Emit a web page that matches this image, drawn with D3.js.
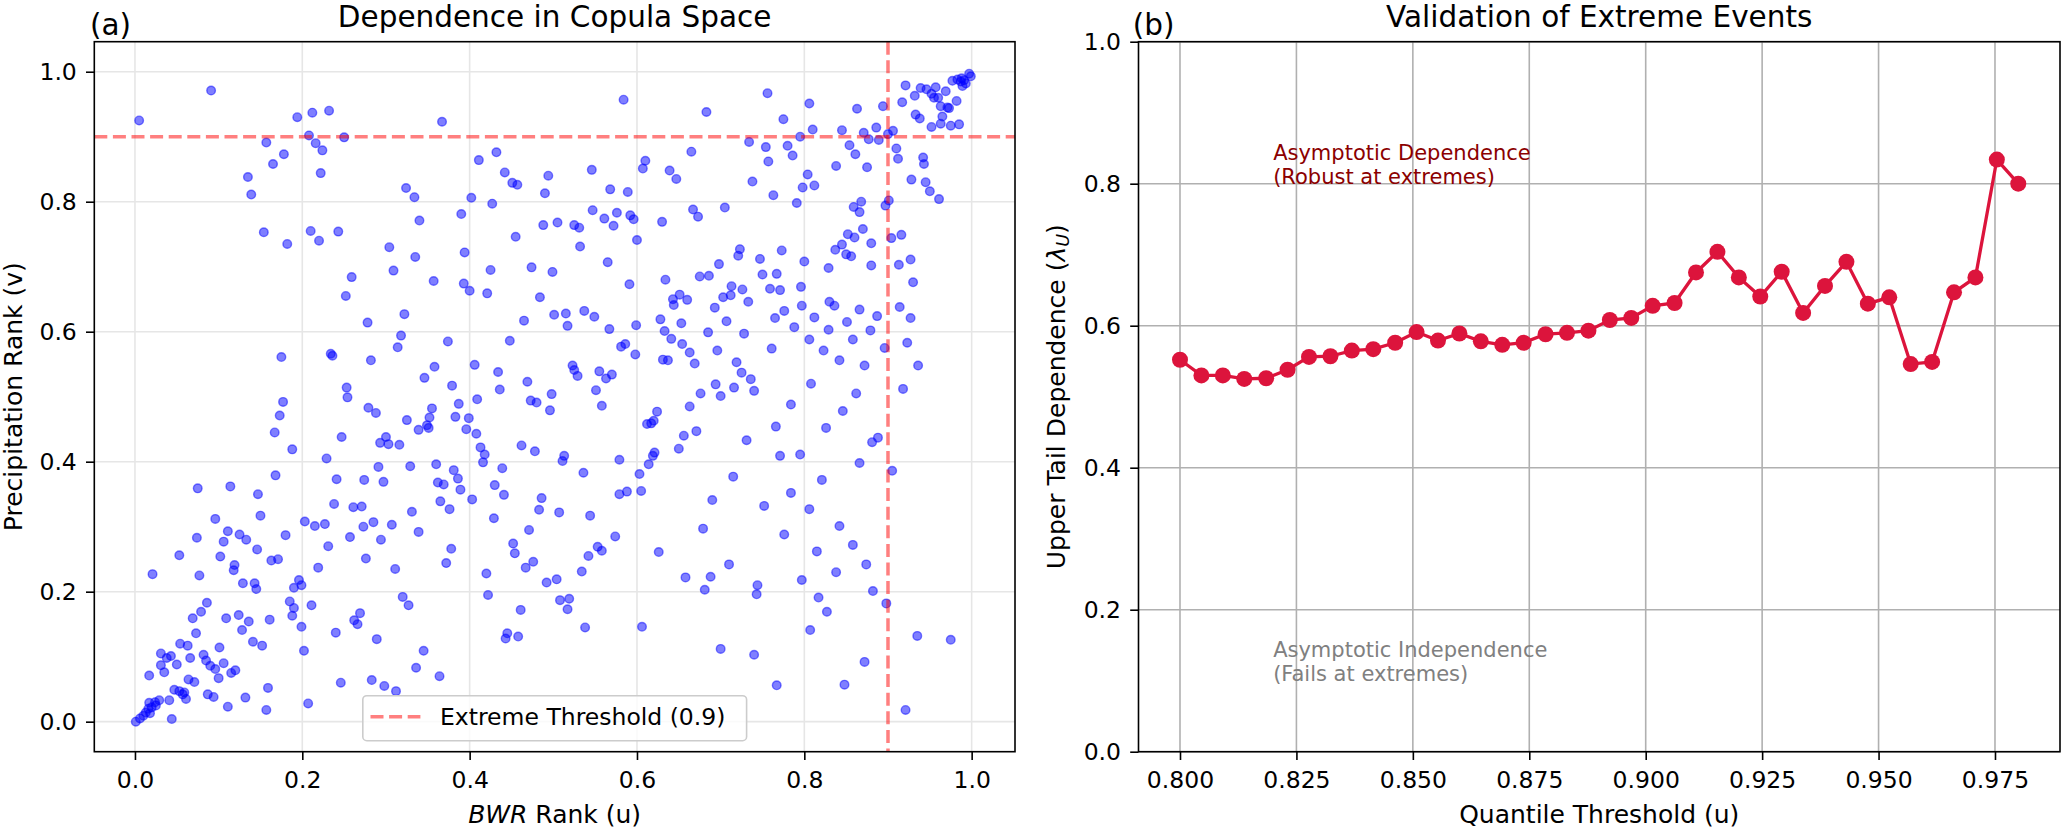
<!DOCTYPE html>
<html>
<head>
<meta charset="utf-8">
<script src="https://cdn.jsdelivr.net/npm/d3@7"></script>
<style>
  body { margin: 0; background: #fff; }
  svg text { font-family: "DejaVu Sans", sans-serif; fill: #000; }
</style>
</head>
<body>
<div class="chart"></div>
<script>
// (a) pseudo-observations in copula space: [BWR rank u, precipitation rank v]
const copulaPoints = [
  [0.005,0.925],[0.091,0.971],[0.194,0.930],[0.212,0.937],[0.232,0.940],[0.208,0.902],[0.216,0.890],[0.224,0.879],
  [0.250,0.899],[0.157,0.891],[0.178,0.873],[0.165,0.858],[0.222,0.844],[0.135,0.838],[0.139,0.811],[0.154,0.753],
  [0.182,0.735],[0.210,0.755],[0.220,0.740],[0.243,0.754],[0.259,0.684],[0.252,0.655],[0.324,0.821],[0.334,0.807],
  [0.340,0.771],[0.304,0.730],[0.309,0.694],[0.335,0.715],
  [0.367,0.923],[0.411,0.864],[0.432,0.876],[0.442,0.845],[0.451,0.829],[0.457,0.826],[0.494,0.840],[0.490,0.813],
  [0.402,0.806],[0.427,0.797],[0.390,0.781],[0.394,0.722],[0.455,0.746],[0.488,0.764],[0.505,0.768],[0.525,0.764],
  [0.531,0.760],[0.532,0.731],[0.546,0.849],[0.568,0.819],[0.584,0.957],[0.589,0.815],[0.547,0.787],[0.561,0.774],
  [0.576,0.783],[0.572,0.763],[0.592,0.779],[0.596,0.773],[0.600,0.741],[0.607,0.851],[0.610,0.863],[0.639,0.848],
  [0.647,0.835],[0.665,0.877],[0.683,0.938],[0.630,0.769],[0.667,0.788],[0.673,0.777],[0.705,0.791],[0.734,0.892],
  [0.754,0.884],[0.757,0.862],[0.738,0.831],[0.763,0.810],[0.756,0.967],[0.773,0.725],[0.357,0.678],[0.393,0.674],
  [0.400,0.663],[0.421,0.659],[0.425,0.695],[0.474,0.699],[0.499,0.692],[0.484,0.653],[0.565,0.707],[0.591,0.673],
  [0.634,0.680],[0.643,0.650],[0.651,0.657],[0.660,0.649],[0.675,0.685],[0.686,0.686],[0.698,0.704],[0.723,0.727],
  [0.721,0.717],[0.713,0.670],[0.703,0.653],[0.712,0.656],[0.726,0.665],[0.747,0.712],[0.750,0.688],[0.759,0.666],
  [0.767,0.689],[0.771,0.664],[0.733,0.646],
  [0.806,0.951],[0.775,0.927],[0.810,0.911],[0.795,0.900],[0.780,0.886],[0.786,0.871],[0.845,0.910],[0.863,0.943],
  [0.871,0.906],[0.877,0.896],[0.886,0.914],[0.889,0.895],[0.894,0.947],[0.900,0.904],[0.906,0.909],[0.854,0.887],
  [0.861,0.873],[0.838,0.855],[0.875,0.853],[0.910,0.882],[0.912,0.866],[0.804,0.842],[0.798,0.822],[0.812,0.825],
  [0.791,0.798],[0.859,0.792],[0.868,0.800],[0.866,0.784],[0.897,0.794],[0.901,0.802],[0.852,0.750],[0.870,0.758],
  [0.860,0.745],[0.845,0.734],[0.837,0.726],[0.850,0.719],[0.856,0.716],[0.880,0.736],[0.880,0.702],[0.829,0.698],
  [0.800,0.708],[0.796,0.669],[0.830,0.646],[0.904,0.744],[0.916,0.749],[0.913,0.703],[0.927,0.711],[0.930,0.676],
  [0.928,0.834],[0.942,0.868],[0.943,0.858],[0.945,0.830],[0.950,0.816],[0.961,0.804],[0.917,0.953],[0.921,0.979],
  [0.932,0.963],[0.939,0.975],[0.946,0.973],[0.952,0.966],[0.957,0.976],[0.955,0.960],[0.960,0.960],[0.969,0.970],
  [0.963,0.947],[0.971,0.945],[0.973,0.944],[0.982,0.955],[0.933,0.934],[0.938,0.928],[0.965,0.931],[0.952,0.915],
  [0.963,0.920],[0.975,0.917],[0.985,0.919],[0.977,0.986],[0.983,0.988],[0.988,0.990],[0.991,0.987],[0.997,0.997],
  [0.993,0.982],[0.989,0.978],[0.999,0.993],[0.987,0.985],
  [0.278,0.614],[0.322,0.627],[0.318,0.594],[0.314,0.576],[0.175,0.561],[0.234,0.566],[0.236,0.563],[0.282,0.556],
  [0.253,0.514],[0.254,0.499],[0.177,0.492],[0.173,0.471],[0.279,0.483],[0.288,0.475],[0.325,0.464],[0.339,0.449],
  [0.167,0.445],[0.188,0.419],[0.247,0.438],[0.293,0.429],[0.300,0.438],[0.303,0.427],[0.316,0.426],[0.291,0.392],
  [0.329,0.393],[0.229,0.405],[0.168,0.379],[0.241,0.373],[0.274,0.372],[0.297,0.369],[0.075,0.359],[0.114,0.362],
  [0.147,0.350],[0.238,0.335],[0.261,0.330],[0.271,0.331],[0.331,0.323],[0.150,0.317],[0.096,0.312],[0.203,0.308],
  [0.215,0.301],[0.227,0.304],[0.285,0.307],[0.307,0.303],[0.273,0.300],[0.339,0.292],[0.111,0.293],[0.125,0.288],
  [0.074,0.283],[0.133,0.280],[0.180,0.287],[0.257,0.284],[0.294,0.280],[0.106,0.277],[0.231,0.270],[0.146,0.265],
  [0.053,0.256],[0.102,0.254],[0.163,0.248],[0.171,0.250],[0.276,0.251],[0.119,0.241],[0.118,0.233],[0.219,0.237],
  [0.311,0.235],[0.021,0.227],[0.077,0.225],[0.129,0.213],[0.143,0.213],[0.196,0.218],[0.190,0.206],[0.199,0.210],
  [0.145,0.204],
  [0.465,0.617],[0.501,0.626],[0.515,0.628],[0.517,0.609],[0.537,0.632],[0.549,0.623],[0.567,0.604],[0.599,0.610],
  [0.581,0.577],[0.586,0.581],[0.598,0.565],[0.628,0.619],[0.644,0.641],[0.653,0.613],[0.633,0.601],[0.641,0.589],
  [0.654,0.581],[0.663,0.568],[0.669,0.551],[0.631,0.557],[0.637,0.556],[0.693,0.637],[0.707,0.616],[0.685,0.599],
  [0.728,0.597],[0.696,0.571],[0.719,0.553],[0.725,0.537],[0.736,0.527],[0.740,0.509],[0.716,0.514],[0.694,0.519],
  [0.700,0.501],[0.676,0.505],[0.663,0.485],[0.761,0.574],[0.765,0.621],[0.766,0.454],[0.731,0.433],[0.671,0.447],
  [0.656,0.440],[0.650,0.420],[0.624,0.477],[0.620,0.463],[0.612,0.458],[0.617,0.459],[0.621,0.414],[0.619,0.409],
  [0.614,0.396],[0.603,0.381],[0.605,0.355],[0.588,0.354],[0.579,0.350],[0.579,0.403],[0.715,0.377],[0.690,0.341],
  [0.752,0.332],[0.679,0.297],[0.626,0.261],[0.574,0.285],[0.544,0.317],[0.536,0.383],[0.558,0.486],[0.551,0.510],
  [0.555,0.539],[0.563,0.528],[0.570,0.534],[0.523,0.548],[0.525,0.541],[0.529,0.532],[0.496,0.479],[0.498,0.504],
  [0.480,0.491],[0.473,0.494],[0.469,0.523],[0.448,0.586],[0.434,0.538],[0.436,0.511],[0.406,0.549],[0.409,0.496],
  [0.374,0.585],[0.358,0.546],[0.346,0.529],[0.379,0.517],[0.387,0.489],[0.355,0.482],[0.352,0.468],[0.349,0.456],
  [0.351,0.452],[0.383,0.469],[0.399,0.467],[0.396,0.450],[0.408,0.443],[0.413,0.422],[0.418,0.411],[0.416,0.399],
  [0.462,0.425],[0.478,0.416],[0.513,0.409],[0.511,0.401],[0.439,0.390],[0.430,0.364],[0.441,0.349],[0.486,0.344],
  [0.483,0.326],[0.507,0.322],[0.360,0.396],[0.381,0.387],[0.386,0.374],[0.362,0.368],[0.369,0.365],[0.389,0.357],
  [0.403,0.342],[0.365,0.339],[0.376,0.327],[0.429,0.313],[0.378,0.266],[0.372,0.244],[0.420,0.228],[0.452,0.274],
  [0.454,0.259],[0.471,0.295],[0.467,0.237],[0.476,0.246],[0.492,0.214],[0.504,0.219],[0.534,0.231],[0.542,0.255],
  [0.553,0.269],[0.558,0.263],[0.658,0.222],[0.688,0.223],[0.710,0.242],[0.744,0.210],[0.681,0.203],[0.771,0.409],
  [0.776,0.632],[0.788,0.607],[0.797,0.640],[0.806,0.588],[0.812,0.622],[0.823,0.571],[0.829,0.603],[0.836,0.640],
  [0.842,0.556],[0.851,0.615],[0.858,0.588],[0.866,0.634],[0.872,0.548],[0.879,0.602],[0.887,0.624],[0.896,0.575],
  [0.914,0.638],[0.927,0.621],[0.923,0.583],[0.936,0.548],[0.918,0.512],[0.862,0.505],[0.846,0.478],[0.808,0.520],
  [0.784,0.488],[0.826,0.452],[0.881,0.430],[0.888,0.437],[0.905,0.386],[0.866,0.398],[0.795,0.411],[0.784,0.352],
  [0.806,0.327],[0.821,0.372],[0.842,0.301],[0.815,0.262],[0.858,0.272],[0.838,0.230],[0.797,0.218],[0.874,0.242],
  [0.776,0.288],
  [0.422,0.195],[0.320,0.192],[0.327,0.179],[0.508,0.187],[0.519,0.189],[0.517,0.173],[0.461,0.172],[0.445,0.136],
  [0.443,0.128],[0.458,0.131],[0.538,0.145],[0.743,0.196],[0.606,0.146],[0.700,0.112],[0.740,0.103],[0.767,0.056],
  [0.807,0.141],[0.817,0.191],[0.827,0.169],[0.882,0.201],[0.898,0.182],[0.872,0.092],[0.848,0.057],[0.935,0.132],
  [0.975,0.126],[0.921,0.018],
  [0.001,0.000],[0.006,0.005],[0.010,0.009],[0.013,0.014],[0.018,0.013],[0.016,0.020],[0.020,0.022],[0.025,0.025],
  [0.017,0.029],[0.024,0.030],[0.029,0.033],[0.041,0.033],[0.044,0.004],[0.047,0.049],[0.053,0.047],[0.057,0.042],
  [0.061,0.035],[0.059,0.045],[0.064,0.065],[0.071,0.061],[0.087,0.042],[0.094,0.038],[0.111,0.023],[0.132,0.037],
  [0.157,0.018],[0.159,0.052],[0.207,0.028],[0.246,0.060],[0.283,0.064],[0.298,0.055],[0.312,0.047],[0.017,0.071],
  [0.035,0.076],[0.031,0.087],[0.038,0.098],[0.031,0.105],[0.043,0.101],[0.050,0.088],[0.054,0.120],[0.063,0.117],
  [0.066,0.098],[0.082,0.103],[0.085,0.094],[0.090,0.086],[0.096,0.081],[0.100,0.067],[0.106,0.090],[0.115,0.075],
  [0.120,0.079],[0.101,0.114],[0.073,0.136],[0.069,0.159],[0.079,0.169],[0.086,0.183],[0.109,0.159],[0.124,0.164],
  [0.128,0.141],[0.136,0.154],[0.141,0.123],[0.152,0.117],[0.161,0.157],[0.185,0.185],[0.190,0.175],[0.188,0.163],
  [0.199,0.146],[0.202,0.109],[0.211,0.179],[0.240,0.137],[0.262,0.156],[0.266,0.150],[0.269,0.167],[0.289,0.127],
  [0.345,0.109],[0.336,0.083],[0.364,0.070]
];
const extremeThreshold = 0.9;
const rankTicks = [0.0, 0.2, 0.4, 0.6, 0.8, 1.0];

// (b) empirical upper tail dependence per quantile threshold
const quantileThresholds = [0.8000,0.8046,0.8092,0.8138,0.8185,0.8231,0.8277,0.8323,0.8369,0.8415,
  0.8462,0.8508,0.8554,0.8600,0.8646,0.8692,0.8738,0.8785,0.8831,0.8877,
  0.8923,0.8969,0.9015,0.9062,0.9108,0.9154,0.9200,0.9246,0.9292,0.9338,
  0.9385,0.9431,0.9477,0.9523,0.9569,0.9615,0.9662,0.9708,0.9754,0.9800];
const upperTailLambda = [0.552,0.530,0.530,0.525,0.526,0.538,0.556,0.557,0.565,0.567,
  0.576,0.591,0.579,0.589,0.578,0.573,0.576,0.588,0.590,0.593,
  0.608,0.611,0.628,0.632,0.675,0.704,0.668,0.641,0.676,0.618,
  0.656,0.690,0.631,0.640,0.546,0.549,0.647,0.668,0.834,0.800];
const quantileTicks = [0.800, 0.825, 0.850, 0.875, 0.900, 0.925, 0.950, 0.975];
const lambdaTicks = [0.0, 0.2, 0.4, 0.6, 0.8, 1.0];

const svg = d3.select('div.chart').append('svg')
  .attr('width', 2067)
  .attr('height', 830);

const boxA = {x0: 94.3, x1: 1015, y0: 41.7, y1: 751.7};
const boxB = {x0: 1138.5, x1: 2060, y0: 41.7, y1: 751.7};

const xA = d3.scaleLinear().domain([-0.0486, 1.0518]).range([boxA.x0, boxA.x1]);
const yA = d3.scaleLinear().domain([-0.0462, 1.0462]).range([boxA.y1, boxA.y0]);
const xB = d3.scaleLinear().domain([0.79109, 0.98896]).range([boxB.x0, boxB.x1]);
const yB = d3.scaleLinear().domain([0, 1]).range([boxB.y1, boxB.y0]);

function grid(box, x, y, xt, yt, color) {
  const g = svg.append('g');
  g.selectAll('line.gx').data(xt).enter().append('line')
    .attr('x1', d => x(d)).attr('x2', d => x(d))
    .attr('y1', box.y0).attr('y2', box.y1)
    .attr('stroke', color).attr('stroke-width', 1.6);
  g.selectAll('line.gy').data(yt).enter().append('line')
    .attr('y1', d => y(d)).attr('y2', d => y(d))
    .attr('x1', box.x0).attr('x2', box.x1)
    .attr('stroke', color).attr('stroke-width', 1.6);
}

function axes(box, x, y, xt, yt, xfmt, yfmt) {
  const ax = svg.append('g').attr('transform', `translate(0,${box.y1})`)
    .call(d3.axisBottom(x).tickValues(xt).tickFormat(d3.format(xfmt)).tickSize(8.3).tickPadding(11.5));
  const ay = svg.append('g').attr('transform', `translate(${box.x0},0)`)
    .call(d3.axisLeft(y).tickValues(yt).tickFormat(d3.format(yfmt)).tickSize(8.3).tickPadding(9.2));
  [ax, ay].forEach(a => {
    a.attr('font-size', null).attr('font-family', null);
    a.select('.domain').remove();
    a.selectAll('.tick line').attr('stroke', '#000').attr('stroke-width', 1.6);
    a.selectAll('.tick text').style('font-size', '23.5px');
  });
  svg.append('rect')
    .attr('x', box.x0).attr('y', box.y0)
    .attr('width', box.x1 - box.x0).attr('height', box.y1 - box.y0)
    .attr('fill', 'none').attr('stroke', '#000').attr('stroke-width', 1.6);
}

// ---- panel (a)
grid(boxA, xA, yA, rankTicks, rankTicks, '#e6e6e6');

svg.append('g').selectAll('circle')
  .data(copulaPoints)
  .enter()
  .append('circle')
  .attr('cx', d => xA(d[0]))
  .attr('cy', d => yA(d[1]))
  .attr('r', 4.3)
  .attr('fill', '#0000ff').attr('fill-opacity', 0.5)
  .attr('stroke', '#0000ff').attr('stroke-opacity', 0.5).attr('stroke-width', 1.4);

const dashed = {stroke: '#ff0000', 'stroke-opacity': 0.5, 'stroke-width': 3.5, 'stroke-dasharray': '13,5.6'};
const hLine = svg.append('line')
  .attr('x1', boxA.x0).attr('x2', boxA.x1)
  .attr('y1', yA(extremeThreshold)).attr('y2', yA(extremeThreshold));
const vLine = svg.append('line')
  .attr('x1', xA(extremeThreshold)).attr('x2', xA(extremeThreshold))
  .attr('y1', boxA.y0).attr('y2', boxA.y1);
[hLine, vLine].forEach(l => Object.entries(dashed).forEach(([k, v]) => l.attr(k, v)));

// legend
const leg = svg.append('g');
leg.append('rect')
  .attr('x', 362.8).attr('y', 695.7).attr('width', 383.8).attr('height', 45).attr('rx', 4)
  .attr('fill', '#fff').attr('fill-opacity', 0.8)
  .attr('stroke', '#cccccc').attr('stroke-width', 1.6);
const legLine = leg.append('line').attr('x1', 370.5).attr('x2', 420.4).attr('y1', 716.7).attr('y2', 716.7);
Object.entries(dashed).forEach(([k, v]) => legLine.attr(k, v));
leg.append('text').attr('x', 440).attr('y', 725).style('font-size', '23.5px')
  .text(`Extreme Threshold (${extremeThreshold})`);

axes(boxA, xA, yA, rankTicks, rankTicks, '.1f', '.1f');

svg.append('text').attr('x', (boxA.x0 + boxA.x1) / 2).attr('y', 26.5)
  .attr('text-anchor', 'middle').style('font-size', '29.5px')
  .text('Dependence in Copula Space');
svg.append('text').attr('x', 90).attr('y', 35).style('font-size', '29.5px').text('(a)');

const xlabA = svg.append('text').attr('x', (boxA.x0 + boxA.x1) / 2).attr('y', 823)
  .attr('text-anchor', 'middle').style('font-size', '25px');
xlabA.append('tspan').style('font-style', 'italic').text('BWR');
xlabA.append('tspan').text(' Rank (u)');

svg.append('text')
  .attr('transform', `translate(21.7,${(boxA.y0 + boxA.y1) / 2}) rotate(-90)`)
  .attr('text-anchor', 'middle').style('font-size', '25px')
  .text('Precipitation Rank (v)');

// ---- panel (b)
grid(boxB, xB, yB, quantileTicks, lambdaTicks, '#b0b0b0');

const line = d3.line()
  .x((d, i) => xB(quantileThresholds[i]))
  .y(d => yB(d));

svg.append('path')
  .datum(upperTailLambda)
  .attr('d', line)
  .attr('fill', 'none')
  .attr('stroke', '#dc143c')
  .attr('stroke-width', 3.3);

svg.append('g').selectAll('circle')
  .data(upperTailLambda)
  .enter()
  .append('circle')
  .attr('cx', (d, i) => xB(quantileThresholds[i]))
  .attr('cy', d => yB(d))
  .attr('r', 8)
  .attr('fill', '#dc143c');

function note(x, y, lines, color) {
  const t = svg.append('text').style('font-size', '21px').style('fill', color);
  lines.forEach((s, i) => {
    t.append('tspan').attr('x', xB(x)).attr('y', yB(y) - (lines.length - 1 - i) * 24.2).text(s);
  });
}
note(0.82, 0.8, ['Asymptotic Dependence', '(Robust at extremes)'], '#8b0000');
note(0.82, 0.1, ['Asymptotic Independence', '(Fails at extremes)'], '#808080');

axes(boxB, xB, yB, quantileTicks, lambdaTicks, '.3f', '.1f');

svg.append('text').attr('x', (boxB.x0 + boxB.x1) / 2).attr('y', 26.5)
  .attr('text-anchor', 'middle').style('font-size', '29.5px')
  .text('Validation of Extreme Events');
svg.append('text').attr('x', 1132.7).attr('y', 35).style('font-size', '29.5px').text('(b)');

svg.append('text').attr('x', (boxB.x0 + boxB.x1) / 2).attr('y', 823)
  .attr('text-anchor', 'middle').style('font-size', '25px')
  .text('Quantile Threshold (u)');

const ylabB = svg.append('text')
  .attr('transform', `translate(1065,${(boxB.y0 + boxB.y1) / 2}) rotate(-90)`)
  .attr('text-anchor', 'middle').style('font-size', '25px');
ylabB.append('tspan').text('Upper Tail Dependence (');
ylabB.append('tspan').style('font-style', 'italic').text('λ');
ylabB.append('tspan').style('font-style', 'italic').style('font-size', '17.5px').attr('dy', 4).text('U');
ylabB.append('tspan').attr('dy', -4).text(')');
</script>
</body>
</html>
